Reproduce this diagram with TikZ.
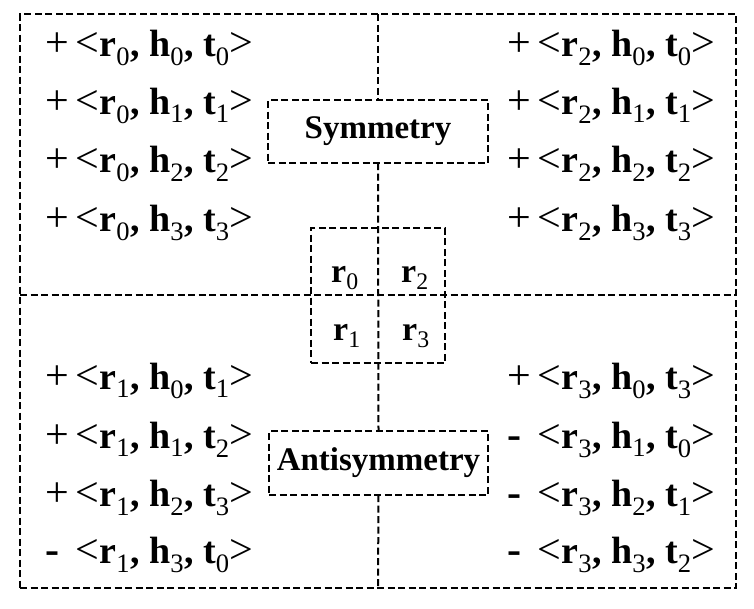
\documentclass[tikz,border=0pt]{standalone}
\usepackage{fontspec}
\setmainfont{Liberation Serif}
\newlength\plusw
\newcommand\opsym[1]{{\mdseries\fontsize{42}{44}\selectfont #1}}
\newcommand\sgn[1]{\settowidth\plusw{\opsym{+}}\makebox[\plusw][l]{\opsym{#1}}}
\newcommand\sbs[1]{\textsubscript{\mdseries #1}}
\newcommand\trip[4]{\sgn{#1}\hspace{7pt}\opsym{<}r\sbs{#2}, h\sbs{#3}, t\sbs{#4}\opsym{>}}
\newcommand\mns{\bfseries -}
\begin{document}
\begin{tikzpicture}[x=1pt,y=-1pt,
  font=\bfseries,
  dl/.style={dash pattern=on 7pt off 3.5pt, line width=2pt},
  box/.style={draw, dl, rectangle, inner sep=0pt, outer sep=0pt,
    font=\fontsize{33}{40}\selectfont\bfseries},
  row/.style={anchor=base west, inner sep=0pt, font=\fontsize{38}{44}\selectfont\bfseries},
  rl/.style={anchor=base west, inner sep=0pt, font=\fontsize{34}{40}\selectfont\bfseries}]
\useasboundingbox (0,0) rectangle (754,608);
\node[box, minimum width=716pt, minimum height=574pt] (outer) at (378,301) {};
\node[box, minimum width=220pt, minimum height=63pt] (sym) at (378,131.5) {Symmetry};
\node[box, minimum width=219pt, minimum height=64pt] (anti) at (378.5,463) {Antisymmetry};
\node[box, minimum width=134pt, minimum height=135pt] (rbox) at (378,295.5) {};
\coordinate (hl) at (20,295);
\coordinate (hr) at (736,295);
\draw[dl] (hl) -- (hr);
\draw[dl] (outer.north) -- (sym.north);
\draw[dl] (sym.south) -- (anti.north);
\draw[dl] (anti.south) -- (outer.south);
% r labels
\node[rl] (r0) at (331,282) {r\sbs{0}};
\node[rl] (r2) at (401,282) {r\sbs{2}};
\node[rl] (r1) at (333,340) {r\sbs{1}};
\node[rl] (r3) at (402,340) {r\sbs{3}};
% top left
\node[row] (a0) at (45,56) {\trip{+}{0}{0}{0}};
\node[row] (a1) at (45,114) {\trip{+}{0}{1}{1}};
\node[row] (a2) at (45,172) {\trip{+}{0}{2}{2}};
\node[row] (a3) at (45,231) {\trip{+}{0}{3}{3}};
% top right
\node[row] (b0) at (507,56) {\trip{+}{2}{0}{0}};
\node[row] (b1) at (507,114) {\trip{+}{2}{1}{1}};
\node[row] (b2) at (507,172) {\trip{+}{2}{2}{2}};
\node[row] (b3) at (507,231) {\trip{+}{2}{3}{3}};
% bottom left
\node[row] (c0) at (45,389) {\trip{+}{1}{0}{1}};
\node[row] (c1) at (45,448) {\trip{+}{1}{1}{2}};
\node[row] (c2) at (45,506) {\trip{+}{1}{2}{3}};
\node[row] (c3) at (45,563) {\trip{\mns}{1}{3}{0}};
% bottom right
\node[row] (d0) at (507,389) {\trip{+}{3}{0}{3}};
\node[row] (d1) at (507,448) {\trip{\mns}{3}{1}{0}};
\node[row] (d2) at (507,506) {\trip{\mns}{3}{2}{1}};
\node[row] (d3) at (507,563) {\trip{\mns}{3}{3}{2}};
\end{tikzpicture}
\end{document}
